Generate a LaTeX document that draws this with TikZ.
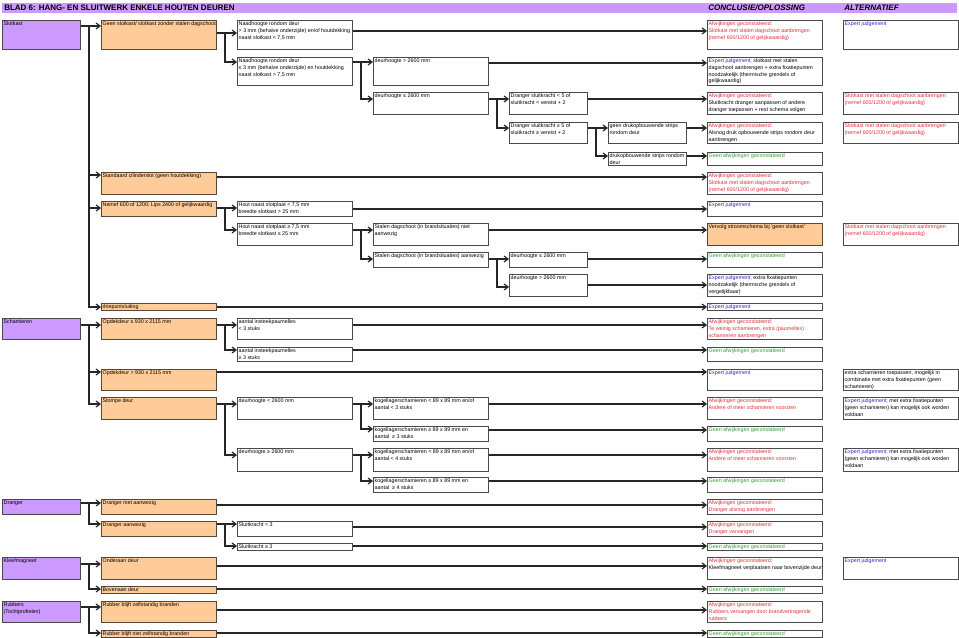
\documentclass[tikz,border=0pt]{standalone}
\usepackage{fontspec}
\setmainfont{Liberation Sans}
\usetikzlibrary{arrows.meta,calc}
\definecolor{purp}{HTML}{CC99FF}
\definecolor{orng}{HTML}{FFCC99}
\definecolor{bordc}{HTML}{4A4A4A}
\definecolor{obord}{HTML}{5A4632}
\definecolor{txred}{HTML}{E0303A}
\definecolor{txblue}{HTML}{2A2AC8}
\definecolor{txgreen}{HTML}{2E9E2E}
\newcommand\flowbox[8][]{%
  \node[#7, minimum width={(#5-#3)*0.75pt}, minimum height={(#6-#4)*0.75pt}, anchor=north west] (#2) at (#3,#4) {};
  \node[txt, anchor=north west, #1] (#2t) at ($(#2.north west)+(1.4,1.6)$) {#8};
}
\newcommand\afw{\textcolor{txred}{Afwijkingen geconstateerd:}}
\newcommand\geen{\textcolor{txgreen}{Geen afwijkingen geconstateerd}}
\newcommand\expj{\textcolor{txblue}{Expert judgement}}
\begin{document}
\begin{tikzpicture}[x=0.75pt,y=-0.75pt,
 txt/.style={inner sep=0pt, align=left, font=\fontsize{4.0}{5}\selectfont, text=black},
 wbox/.style={draw=bordc, line width=0.75pt, fill=white, inner sep=0pt},
 obox/.style={draw=obord, line width=0.75pt, fill=orng, inner sep=0pt},
 pbox/.style={draw=bordc, line width=0.75pt, fill=purp, inner sep=0pt},
 conn/.style={draw=black!85, line width=0.9pt, -{Straight Barb[length=3pt,width=4.5pt]}},
 hdrtxt/.style={inner sep=0pt, anchor=west, font=\fontsize{6}{7}\selectfont\bfseries},
]
\useasboundingbox[fill=white] (0,0) rectangle (959,638);

% header
\node[fill=purp, inner sep=0pt, minimum width={955*0.75pt}, minimum height={10*0.75pt}, anchor=north west] (hdr) at (2,3) {};
\node[hdrtxt] (title) at (4,8) {BLAD 6: HANG- EN SLUITWERK ENKELE HOUTEN DEUREN};
\node[hdrtxt, font=\fontsize{6}{7}\selectfont\bfseries\itshape] (hconc) at (708,8) {CONCLUSIE/OPLOSSING};
\node[hdrtxt, font=\fontsize{6}{7}\selectfont\bfseries\itshape] (halt) at (844,8) {ALTERNATIEF};

% column A
\flowbox{A1}{2}{20}{80}{49}{pbox}{Slotkast}
\flowbox{A2}{2}{318}{80}{339}{pbox}{Schamieren}
\flowbox{A3}{2}{499}{80}{514}{pbox}{Dranger}
\flowbox{A4}{2}{557}{80}{579}{pbox}{Kleefmagneet}
\flowbox{A5}{2}{601}{80}{622}{pbox}{Rubbers\\(Tochtprofielen)}

% column B
\flowbox{B1}{101}{20}{216}{49}{obox}{Geen slotkast/ slotkast zonder stalen dagschoot}
\flowbox{B2}{101}{172}{216}{194}{obox}{Standaard cilinderslot (geen houtdekking)}
\flowbox{B3}{101}{201}{216}{216}{obox}{Nemef 600 of 1200; Lips 2400 of gelijkwaardig}
\flowbox{B4}{101}{303}{216}{310}{obox}{driepuntsluiting}
\flowbox{B5}{101}{318}{216}{339}{obox}{Opdekdeur ≤ 930 x 2115 mm}
\flowbox{B6}{101}{369}{216}{390}{obox}{Opdekdeur > 930 x 2115 mm}
\flowbox{B7}{101}{397}{216}{419}{obox}{Stompe deur}
\flowbox{B8}{101}{499}{216}{514}{obox}{Dranger niet aanwezig}
\flowbox{B9}{101}{521}{216}{536}{obox}{Dranger aanwezig}
\flowbox{B10}{101}{557}{216}{579}{obox}{Onderaan deur}
\flowbox{B11}{101}{586}{216}{593}{obox}{Bovenaan deur}
\flowbox{B12}{101}{601}{216}{622}{obox}{Rubber blijft zelfstandig branden}
\flowbox{B13}{101}{630}{216}{637}{obox}{Rubber blijft niet zelfstandig branden}

% column C
\flowbox{C1}{237}{20}{352}{49}{wbox}{Naadhoogte rondom deur\\> 3 mm (behalve onderzijde) en/of houtdekking\\naast slotkast < 7,5 mm}
\flowbox{C2}{237}{57}{352}{85}{wbox}{Naadhoogte rondom deur\\≤ 3 mm (behalve onderzijde) en houtdekking\\naast slotkast > 7,5 mm}
\flowbox{C3}{237}{201}{352}{216}{wbox}{Hout naast slotplaat < 7,5 mm\\breedte slotkast > 25 mm}
\flowbox{C4}{237}{223}{352}{245}{wbox}{Hout naast slotplaat ≥ 7,5 mm\\breedte slotkast ≤ 25 mm}
\flowbox{C5}{237}{318}{352}{339}{wbox}{aantal insteekpaumelles\\< 3 stuks}
\flowbox{C6}{237}{347}{352}{361}{wbox}{aantal insteekpaumelles\\≥ 3 stuks}
\flowbox{C7}{237}{397}{352}{419}{wbox}{deurhoogte < 2600 mm}
\flowbox{C8}{237}{448}{352}{471}{wbox}{deurhoogte ≥ 2600 mm}
\flowbox{C9}{237}{521}{352}{536}{wbox}{Sluitkracht < 3}
\flowbox{C10}{237}{543}{352}{550}{wbox}{Sluitkracht ≥ 3}

% column D
\flowbox{D1}{373}{57}{488}{85}{wbox}{deurhoogte > 2600 mm}
\flowbox{D2}{373}{92}{488}{114}{wbox}{deurhoogte ≤ 2600 mm}
\flowbox{D3}{373}{223}{488}{245}{wbox}{Stalen dagschoot (in brandsituaties) niet\\aanwezig}
\flowbox{D4}{373}{252}{488}{267}{wbox}{Stalen dagschoot (in brandsituaties) aanwezig}
\flowbox{D5}{373}{397}{488}{419}{wbox}{kogellagerschamieren < 89 x 89 mm en/of\\aantal < 3 stuks}
\flowbox{D6}{373}{426}{488}{441}{wbox}{kogellagerschamieren ≥ 89 x 89 mm en\\aantal \ ≥ 3 stuks}
\flowbox{D7}{373}{448}{488}{471}{wbox}{kogellagerschamieren < 89 x 89 mm en/of\\aantal < 4 stuks}
\flowbox{D8}{373}{477}{488}{492}{wbox}{kogellagerschamieren ≥ 89 x 89 mm en\\aantal \ ≥ 4 stuks}

% column E
\flowbox{E1}{509}{92}{587}{114}{wbox}{Dranger sluitkracht < 5 of\\sluitkracht < vereist + 2}
\flowbox{E2}{509}{122}{587}{143}{wbox}{Dranger sluitkracht ≥ 5 of\\sluitkracht ≥ vereist + 2}
\flowbox{E3}{509}{252}{587}{267}{wbox}{deurhoogte ≤ 2600 mm}
\flowbox{E4}{509}{274}{587}{296}{wbox}{deurhoogte > 2600 mm}

% column F
\flowbox{F1}{608}{122}{686}{143}{wbox}{geen drukopbouwende strips\\rondom deur}
\flowbox{F2}{608}{152}{686}{165}{wbox}{drukopbouwende strips rondom\\deur}

% conclusions
\flowbox[text=txred]{K1}{707}{20}{822}{49}{wbox}{Afwijkingen geconstateerd:\\Slotkast met stalen dagschoot aanbrengen\\(nemef 600/1200 of gelijkwaardig)}
\flowbox{K2}{707}{57}{822}{85}{wbox}{\textcolor{txblue}{Expert judgement;} slotkast met stalen\\dagschoot aanbrengen + extra fixatiepunten\\noodzakelijk (thermische grendels of\\gelijkwaardig)}
\flowbox{K3}{707}{92}{822}{114}{wbox}{\afw\\Sluitkracht dranger aanpassen of andere\\dranger toepassen + rest schema volgen}
\flowbox{K4}{707}{122}{822}{143}{wbox}{\afw\\Alsnog druk opbouwende strips rondom deur\\aanbrengen}
\flowbox{K5}{707}{152}{822}{165}{wbox}{\geen}
\flowbox[text=txred]{K6}{707}{172}{822}{194}{wbox}{Afwijkingen geconstateerd:\\Slotkast met stalen dagschoot aanbrengen\\(nemef 600/1200 of gelijkwaardig)}
\flowbox{K7}{707}{201}{822}{216}{wbox}{\expj}
\flowbox{K8}{707}{223}{822}{245}{obox}{Vervolg stroomschema bij 'geen slotkast'}
\flowbox{K9}{707}{252}{822}{267}{wbox}{\geen}
\flowbox{K10}{707}{274}{822}{296}{wbox}{\textcolor{txblue}{Expert judgement;} extra fixatiepunten\\noodzakelijk (thermische grendels of\\vergelijkbaar)}
\flowbox{K11}{707}{303}{822}{310}{wbox}{\expj}
\flowbox[text=txred]{K12}{707}{318}{822}{339}{wbox}{Afwijkingen geconstateerd:\\Te weinig schamieren, extra (paumelles)\\schamieren aanbrengen}
\flowbox{K13}{707}{347}{822}{361}{wbox}{\geen}
\flowbox{K14}{707}{369}{822}{390}{wbox}{\expj}
\flowbox[text=txred]{K15}{707}{397}{822}{419}{wbox}{Afwijkingen geconstateerd:\\Andere of meer schamieren voorzien}
\flowbox{K16}{707}{426}{822}{441}{wbox}{\geen}
\flowbox[text=txred]{K17}{707}{448}{822}{471}{wbox}{Afwijkingen geconstateerd:\\Andere of meer schamieren voorzien}
\flowbox{K18}{707}{477}{822}{492}{wbox}{\geen}
\flowbox[text=txred]{K19}{707}{499}{822}{514}{wbox}{Afwijkingen geconstateerd:\\Dranger alsnog aanbrengen}
\flowbox[text=txred]{K20}{707}{521}{822}{536}{wbox}{Afwijkingen geconstateerd:\\Dranger vervangen}
\flowbox{K21}{707}{543}{822}{550}{wbox}{\geen}
\flowbox{K22}{707}{557}{822}{579}{wbox}{\afw\\Kleefmagneet verplaatsen naar bovenzijde deur}
\flowbox{K23}{707}{586}{822}{593}{wbox}{\geen}
\flowbox[text=txred]{K24}{707}{601}{822}{622}{wbox}{Afwijkingen geconstateerd:\\Rubbers vervangen door brandvertragende\\rubbers}
\flowbox{K25}{707}{630}{822}{637}{wbox}{\geen}

% alternatives
\flowbox{L1}{843}{20}{958}{49}{wbox}{\expj}
\flowbox[text=txred]{L3}{843}{92}{958}{114}{wbox}{Slotkast met stalen dagschoot aanbrengen\\(nemef 600/1200 of gelijkwaardig)}
\flowbox[text=txred]{L4}{843}{122}{958}{143}{wbox}{Slotkast met stalen dagschoot aanbrengen\\(nemef 600/1200 of gelijkwaardig)}
\flowbox[text=txred]{L8}{843}{223}{958}{245}{wbox}{Slotkast met stalen dagschoot aanbrengen\\(nemef 600/1200 of gelijkwaardig)}
\flowbox{L14}{843}{369}{958}{390}{wbox}{extra schamieren toepassen, mogelijk in\\combinatie met extra fixatiepunten (geen\\schamieren)}
\flowbox{L15}{843}{397}{958}{419}{wbox}{\textcolor{txblue}{Expert judgement;} met extra fixatiepunten\\(geen schamieren) kan mogelijk ook worden\\voldaan}
\flowbox{L17}{843}{448}{958}{471}{wbox}{\textcolor{txblue}{Expert judgement;} met extra fixatiepunten\\(geen schamieren) kan mogelijk ook worden\\voldaan}
\flowbox{L22}{843}{557}{958}{579}{wbox}{\expj}

% connectors: Slotkast
\draw[conn] (A1.east |- 0,26) -- (B1.west |- 0,26);
\draw[conn] (A1.east |- 0,26) -- (89,26) |- (B2.west |- 0,175);
\draw[conn] (A1.east |- 0,26) -- (89,26) |- (B3.west |- 0,208);
\draw[conn] (A1.east |- 0,26) -- (89,26) |- (B4.west |- 0,307);
\draw[conn] (B1.east |- 0,33) -- (C1.west |- 0,33);
\draw[conn] (B1.east |- 0,33) -- (225,33) |- (C2.west |- 0,62);
\draw[conn] (C1.east |- 0,31) -- (K1.west |- 0,31);
\draw[conn] (C2.east |- 0,62) -- (D1.west |- 0,62);
\draw[conn] (C2.east |- 0,62) -- (361,62) |- (D2.west |- 0,99);
\draw[conn] (D1.east |- 0,63) -- (K2.west |- 0,63);
\draw[conn] (D2.east |- 0,99) -- (E1.west |- 0,99);
\draw[conn] (D2.east |- 0,99) -- (497,99) |- (E2.west |- 0,128);
\draw[conn] (E1.east |- 0,99) -- (K3.west |- 0,99);
\draw[conn] (E2.east |- 0,128) -- (F1.west |- 0,128);
\draw[conn] (E2.east |- 0,128) -- (596,128) |- (F2.west |- 0,156);
\draw[conn] (F1.east |- 0,128) -- (K4.west |- 0,128);
\draw[conn] (F2.east |- 0,156) -- (K5.west |- 0,156);
\draw[conn] (B2.east |- 0,177) -- (K6.west |- 0,177);
\draw[conn] (B3.east |- 0,208) -- (C3.west |- 0,208);
\draw[conn] (B3.east |- 0,208) -- (225,208) |- (C4.west |- 0,230);
\draw[conn] (C3.east |- 0,209) -- (K7.west |- 0,209);
\draw[conn] (C4.east |- 0,230) -- (D3.west |- 0,230);
\draw[conn] (C4.east |- 0,230) -- (361,230) |- (D4.west |- 0,259);
\draw[conn] (D3.east |- 0,230) -- (K8.west |- 0,230);
\draw[conn] (D4.east |- 0,259) -- (E3.west |- 0,259);
\draw[conn] (D4.east |- 0,259) -- (497,259) |- (E4.west |- 0,287);
\draw[conn] (E3.east |- 0,259) -- (K9.west |- 0,259);
\draw[conn] (E4.east |- 0,285) -- (K10.west |- 0,285);
\draw[conn] (B4.east |- 0,307) -- (K11.west |- 0,307);

% Schamieren
\draw[conn] (A2.east |- 0,325) -- (B5.west |- 0,325);
\draw[conn] (A2.east |- 0,325) -- (89,325) |- (B6.west |- 0,372);
\draw[conn] (A2.east |- 0,325) -- (89,325) |- (B7.west |- 0,404);
\draw[conn] (B5.east |- 0,325) -- (C5.west |- 0,325);
\draw[conn] (B5.east |- 0,325) -- (225,325) |- (C6.west |- 0,350);
\draw[conn] (C5.east |- 0,325) -- (K12.west |- 0,325);
\draw[conn] (C6.east |- 0,350) -- (K13.west |- 0,350);
\draw[conn] (B6.east |- 0,372) -- (K14.west |- 0,372);
\draw[conn] (B7.east |- 0,404) -- (C7.west |- 0,404);
\draw[conn] (B7.east |- 0,404) -- (225,404) |- (C8.west |- 0,455);
\draw[conn] (C7.east |- 0,404) -- (D5.west |- 0,404);
\draw[conn] (C7.east |- 0,404) -- (361,404) |- (D6.west |- 0,429);
\draw[conn] (D5.east |- 0,404) -- (K15.west |- 0,404);
\draw[conn] (D6.east |- 0,430) -- (K16.west |- 0,430);
\draw[conn] (C8.east |- 0,455) -- (D7.west |- 0,455);
\draw[conn] (C8.east |- 0,455) -- (361,455) |- (D8.west |- 0,481);
\draw[conn] (D7.east |- 0,455) -- (K17.west |- 0,455);
\draw[conn] (D8.east |- 0,481) -- (K18.west |- 0,481);

% Dranger
\draw[conn] (A3.east |- 0,503) -- (B8.west |- 0,503);
\draw[conn] (A3.east |- 0,503) -- (89,503) |- (B9.west |- 0,524);
\draw[conn] (B8.east |- 0,505) -- (K19.west |- 0,505);
\draw[conn] (B9.east |- 0,524) -- (C9.west |- 0,524);
\draw[conn] (B9.east |- 0,524) -- (225,524) |- (C10.west |- 0,546);
\draw[conn] (C9.east |- 0,527) -- (K20.west |- 0,527);
\draw[conn] (C10.east |- 0,546) -- (K21.west |- 0,546);

% Kleefmagneet
\draw[conn] (A4.east |- 0,564) -- (B10.west |- 0,564);
\draw[conn] (A4.east |- 0,564) -- (89,564) |- (B11.west |- 0,589);
\draw[conn] (B10.east |- 0,566) -- (K22.west |- 0,566);
\draw[conn] (B11.east |- 0,589) -- (K23.west |- 0,589);

% Rubbers
\draw[conn] (A5.east |- 0,607) -- (B12.west |- 0,607);
\draw[conn] (A5.east |- 0,607) -- (89,607) |- (B13.west |- 0,633);
\draw[conn] (B12.east |- 0,610) -- (K24.west |- 0,610);
\draw[conn] (B13.east |- 0,633) -- (K25.west |- 0,633);
\end{tikzpicture}
\end{document}
